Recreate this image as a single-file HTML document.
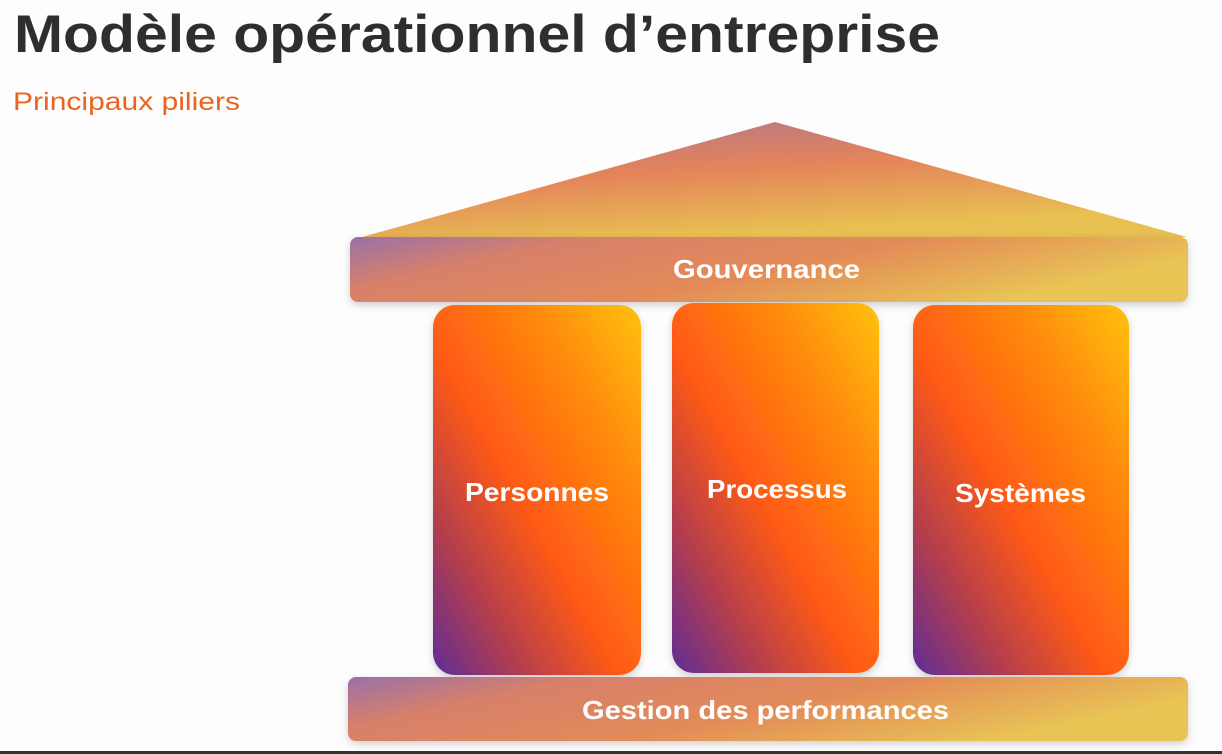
<!DOCTYPE html>
<html><head><meta charset="utf-8"><style>
html,body{margin:0;padding:0;background:#fdfdfd;width:1222px;height:754px;overflow:hidden}
svg{display:block}
text{font-family:"Liberation Sans",sans-serif}
</style></head><body>
<svg width="1222" height="754" viewBox="0 0 1222 754" xmlns="http://www.w3.org/2000/svg">
<defs>
<linearGradient id="roof" x1="0" y1="0" x2="0.4" y2="1">
<stop offset="0" stop-color="#b07590"/><stop offset="0.5" stop-color="#e4845a"/><stop offset="1" stop-color="#e8c052"/>
</linearGradient>
<linearGradient id="bar" x1="0" y1="0" x2="1" y2="0.35">
<stop offset="0" stop-color="#9a70a8"/><stop offset="0.25" stop-color="#d7806a"/><stop offset="0.6" stop-color="#e38a58"/><stop offset="1" stop-color="#e8c455"/>
</linearGradient>
<linearGradient id="pil" x1="0" y1="1" x2="1" y2="0">
<stop offset="0" stop-color="#5f2c96"/><stop offset="0.22" stop-color="#b53e4c"/><stop offset="0.45" stop-color="#ff5a15"/><stop offset="0.75" stop-color="#ff8c0c"/><stop offset="1" stop-color="#ffc20a"/>
</linearGradient>
<filter id="sh" x="-10%" y="-10%" width="120%" height="130%"><feDropShadow dx="0" dy="3" stdDeviation="4" flood-color="#000" flood-opacity="0.18"/></filter>
</defs>
<text x="14" y="52" font-size="53" font-weight="bold" fill="#2e2e2e" textLength="926" lengthAdjust="spacingAndGlyphs">Modèle opérationnel d’entreprise</text>
<text x="13" y="110" font-size="25" fill="#e8641f" textLength="227" lengthAdjust="spacingAndGlyphs">Principaux piliers</text>
<polygon points="775,122 362,237 1187,237" fill="url(#roof)"/>
<rect x="350" y="237" width="838" height="65" rx="8" fill="url(#bar)" filter="url(#sh)"/>
<text x="673" y="278" font-size="26" font-weight="bold" fill="#fff" textLength="187" lengthAdjust="spacingAndGlyphs">Gouvernance</text>
<rect x="433" y="305" width="208" height="370" rx="22" fill="url(#pil)" filter="url(#sh)"/>
<rect x="672" y="303" width="207" height="370" rx="22" fill="url(#pil)" filter="url(#sh)"/>
<rect x="913" y="305" width="216" height="370" rx="22" fill="url(#pil)" filter="url(#sh)"/>
<text x="465" y="501" font-size="26" font-weight="bold" fill="#fff" textLength="144" lengthAdjust="spacingAndGlyphs">Personnes</text>
<text x="707" y="498" font-size="26" font-weight="bold" fill="#fff" textLength="140" lengthAdjust="spacingAndGlyphs">Processus</text>
<text x="955" y="502" font-size="26" font-weight="bold" fill="#fff" textLength="131" lengthAdjust="spacingAndGlyphs">Systèmes</text>
<rect x="348" y="677" width="840" height="64" rx="8" fill="url(#bar)" filter="url(#sh)"/>
<text x="582" y="719" font-size="26" font-weight="bold" fill="#fff" textLength="367" lengthAdjust="spacingAndGlyphs">Gestion des performances</text>
<rect x="0" y="751" width="1222" height="3" fill="#333"/>
</svg>
</body></html>
